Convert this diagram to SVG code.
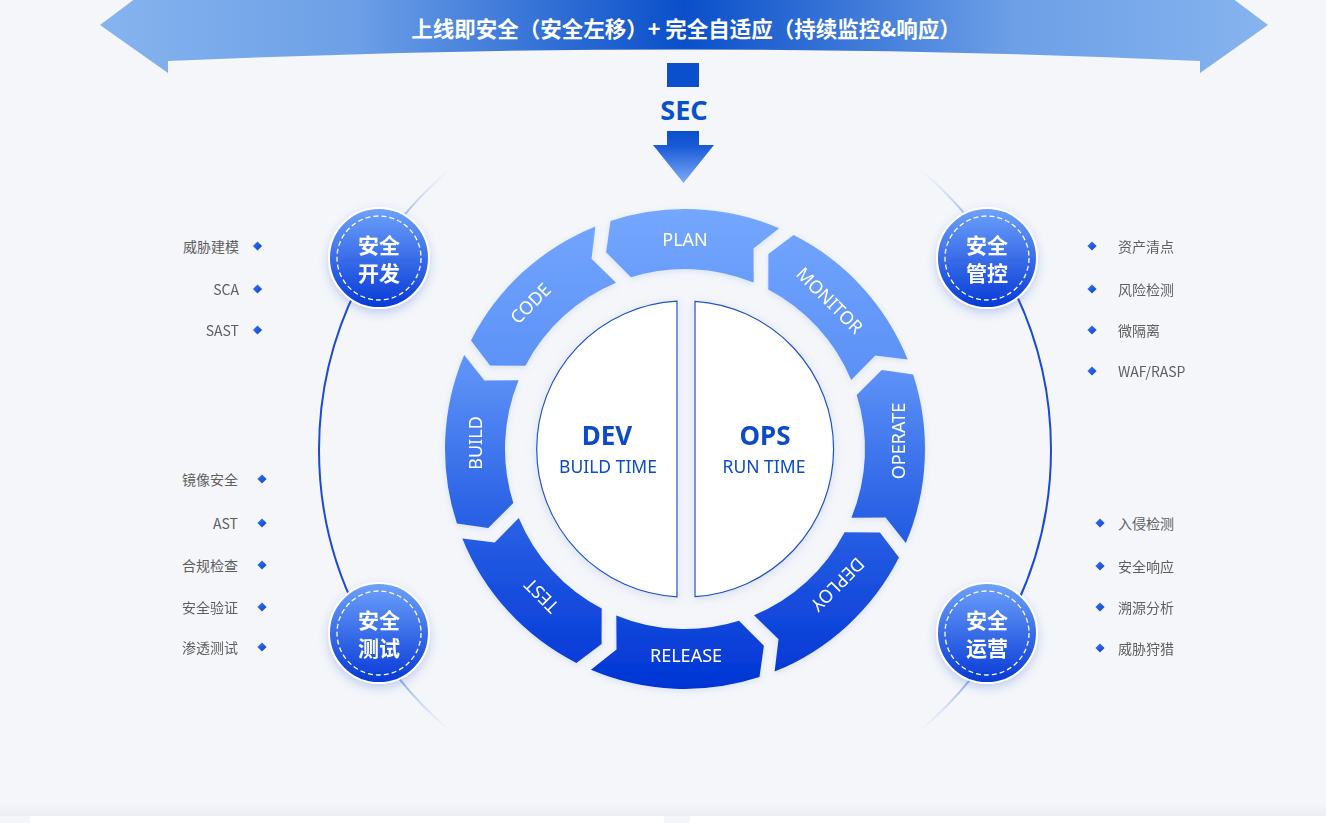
<svg xmlns="http://www.w3.org/2000/svg" width="1326" height="823" viewBox="0 0 1326 823">
<defs>
<linearGradient id="gBanner" x1="100" y1="0" x2="1268" y2="0" gradientUnits="userSpaceOnUse">
<stop offset="0" stop-color="#86b4ef"/>
<stop offset="0.22" stop-color="#6c9fe6"/>
<stop offset="0.5" stop-color="#0a4fca"/>
<stop offset="0.78" stop-color="#6c9fe6"/>
<stop offset="1" stop-color="#86b4ef"/>
</linearGradient>
<linearGradient id="gArrow" x1="0" y1="131" x2="0" y2="183" gradientUnits="userSpaceOnUse">
<stop offset="0" stop-color="#0a4fcc"/>
<stop offset="0.3" stop-color="#1a5bd6"/>
<stop offset="1" stop-color="#7eabfa"/>
</linearGradient>
<linearGradient id="gRing" x1="0" y1="209" x2="0" y2="689" gradientUnits="userSpaceOnUse">
<stop offset="0" stop-color="#74a7ff"/>
<stop offset="0.35" stop-color="#5b90f6"/>
<stop offset="0.6" stop-color="#2f67e6"/>
<stop offset="1" stop-color="#0035d5"/>
</linearGradient>
<linearGradient id="gBadge" x1="0" y1="0" x2="0" y2="1">
<stop offset="0" stop-color="#6ea2fb"/>
<stop offset="1" stop-color="#0639d6"/>
</linearGradient>
<linearGradient id="gArc" x1="0" y1="168" x2="0" y2="732" gradientUnits="userSpaceOnUse">
<stop offset="0" stop-color="#c8d8f6" stop-opacity="0"/>
<stop offset="0.1" stop-color="#86a8ec"/>
<stop offset="0.22" stop-color="#1a4ad6"/>
<stop offset="0.78" stop-color="#1a4ad6"/>
<stop offset="0.9" stop-color="#7fa2ea"/>
<stop offset="1" stop-color="#c8d8f6" stop-opacity="0"/>
</linearGradient>
<linearGradient id="gDia" x1="0" y1="0" x2="1" y2="1">
<stop offset="0" stop-color="#3a78f0"/>
<stop offset="1" stop-color="#0a40d2"/>
</linearGradient>
<linearGradient id="gBottom" x1="0" y1="0" x2="0" y2="1">
<stop offset="0" stop-color="#f4f6fa"/>
<stop offset="1" stop-color="#eaedf3"/>
</linearGradient>
<filter id="fBadge" x="-30%" y="-30%" width="160%" height="170%">
<feDropShadow dx="0" dy="4" stdDeviation="5" flood-color="#3a64d0" flood-opacity="0.28"/>
</filter>
<filter id="fSoft" x="-20%" y="-20%" width="140%" height="140%">
<feDropShadow dx="0" dy="2" stdDeviation="5" flood-color="#9fb3dc" flood-opacity="0.35"/>
</filter>
<filter id="fSeg" x="-20%" y="-20%" width="140%" height="140%">
<feDropShadow dx="0" dy="2" stdDeviation="3" flood-color="#6f8fd8" flood-opacity="0.2"/>
</filter>
<symbol id="dia" viewBox="-5 -5 10 10" overflow="visible">
<path d="M0 -4.6 L4.6 0 L0 4.6 L-4.6 0 Z" fill="url(#gDia)"/>
</symbol>
</defs>
<style>
.seg{fill:url(#gRing);}
.segt{font-family:"Noto Sans","Liberation Sans",sans-serif;font-size:18px;fill:#ffffff;text-anchor:middle;dominant-baseline:central;}
.half{fill:#ffffff;stroke:#1a52c9;stroke-width:1.2;}
.big{font-family:"Noto Sans","Liberation Sans",sans-serif;font-weight:700;font-size:26px;fill:#0a4bc8;text-anchor:middle;}
.sub{font-family:"Noto Sans","Liberation Sans",sans-serif;font-size:17.5px;fill:#0a4bc8;text-anchor:middle;}
.badge{fill:url(#gBadge);stroke:#ffffff;stroke-width:2;}
.dash{fill:none;stroke:#ffffff;stroke-width:1.3;stroke-dasharray:5 3;}
.bt{font-family:"Noto Sans CJK SC","Noto Sans",sans-serif;font-weight:700;font-size:21px;fill:#ffffff;text-anchor:middle;dominant-baseline:central;}
.item{font-family:"Noto Sans CJK SC","Noto Sans",sans-serif;font-size:14px;fill:#5e5e5e;dominant-baseline:central;}
.l{text-anchor:end;}
.arc{fill:none;stroke:url(#gArc);stroke-width:2;}
</style>
<rect x="0" y="0" width="1326" height="823" fill="#f4f6fa"/>
<rect x="0" y="802" width="1326" height="14" fill="url(#gBottom)"/>
<rect x="30" y="816" width="634" height="7" fill="#ffffff"/>
<rect x="690" y="816" width="636" height="7" fill="#ffffff"/>

<g id="banner">
<path d="M100 25 L136 -2 L1232 -2 L1268 25 L1200 73 L1200 61 Q685 38 168 61 L168 73 Z" fill="url(#gBanner)"/>
<text x="686" y="27" font-family="'Noto Sans CJK SC','Noto Sans',sans-serif" font-weight="700" font-size="21.5" fill="#ffffff" text-anchor="middle" dominant-baseline="central">上线即安全（安全左移）+ 完全自适应（持续监控&amp;响应）</text>
</g>

<g id="sec">
<rect x="667" y="63" width="32" height="24" fill="#0a50cc"/>
<text x="684" y="120" font-family="'Noto Sans','Liberation Sans',sans-serif" font-weight="700" font-size="27" fill="#0a50cc" text-anchor="middle">SEC</text>
<path d="M667 131 L699 131 L699 145 L714 145 L683.5 183 L653 145 L667 145 Z" fill="url(#gArrow)"/>
</g>

<g id="connectors">
<path class="arc" d="M451.7 168 A366 366 0 0 0 451.7 732"/>
<path class="arc" d="M918.3 168 A366 366 0 0 1 918.3 732"/>
</g>

<g id="ring" filter="url(#fSeg)">
<g id="seg-plan"><path class="seg" d="M610.5 220.9 A240 240 0 0 1 779.1 228.2 L753.5 248.4 L753.7 282.6 A180 180 0 0 0 631 277.3 L606.1 252.2 Z"/>
<text class="segt" transform="translate(685,239)">PLAN</text></g>
<g id="seg-monitor"><path class="seg" d="M793.6 235 A240 240 0 0 1 907.7 359.5 L875.3 355.5 L851.2 380 A180 180 0 0 0 768.3 289.4 L768.4 254.1 Z"/>
<text class="segt" transform="translate(830,300) rotate(45)">MONITOR</text></g>
<g id="seg-operate"><path class="seg" d="M913.1 374.5 A240 240 0 0 1 905.8 543.1 L885.6 517.5 L851.4 517.7 A180 180 0 0 0 856.7 395 L881.8 370.1 Z"/>
<text class="segt" transform="translate(898,441) rotate(-90)">OPERATE</text></g>
<g id="seg-deploy"><path class="seg" d="M899 557.6 A240 240 0 0 1 774.6 671.6 L778.5 639.3 L754 615.2 A180 180 0 0 0 844.6 532.3 L879.9 532.4 Z"/>
<text class="segt" transform="translate(838,585) rotate(135)">DEPLOY</text></g>
<g id="seg-release"><path class="seg" d="M759.5 677.1 A240 240 0 0 1 590.9 669.8 L616.5 649.6 L616.3 615.4 A180 180 0 0 0 739 620.7 L763.9 645.8 Z"/>
<text class="segt" transform="translate(686,655)">RELEASE</text></g>
<g id="seg-test"><path class="seg" d="M576.4 663 A240 240 0 0 1 462.3 538.5 L494.7 542.5 L518.8 518 A180 180 0 0 0 601.7 608.6 L601.6 643.9 Z"/>
<text class="segt" transform="translate(541,596) rotate(225)">TEST</text></g>
<g id="seg-build"><path class="seg" d="M456.9 523.5 A240 240 0 0 1 464.2 354.9 L484.4 380.5 L518.6 380.3 A180 180 0 0 0 513.3 503 L488.2 527.9 Z"/>
<text class="segt" transform="translate(475,443) rotate(-90)">BUILD</text></g>
<g id="seg-code"><path class="seg" d="M471 340.4 A240 240 0 0 1 595.4 226.4 L591.5 258.7 L616 282.8 A180 180 0 0 0 525.4 365.7 L490.1 365.6 Z"/>
<text class="segt" transform="translate(530,303) rotate(-45)">CODE</text></g>
</g>

<g id="dev" filter="url(#fSoft)">
<path class="half" d="M677 301.2 L677 596.8 A148 148 0 0 1 677 301.2 Z"/>
<text class="big" x="607" y="445">DEV</text>
<text class="sub" x="608" y="473">BUILD TIME</text>
</g>
<g id="ops" filter="url(#fSoft)">
<path class="half" d="M695 301.3 A148 148 0 0 1 695 596.7 Z"/>
<text class="big" x="765" y="445">OPS</text>
<text class="sub" x="764" y="473">RUN TIME</text>
</g>

<g id="badge-dev" filter="url(#fBadge)">
<circle class="badge" cx="379" cy="258" r="50"/>
<circle class="dash" cx="379" cy="258" r="42"/>
<text class="bt" x="379" y="244">安全</text>
<text class="bt" x="379" y="272">开发</text>
</g>
<g id="badge-test" filter="url(#fBadge)">
<circle class="badge" cx="379" cy="633" r="50"/>
<circle class="dash" cx="379" cy="633" r="42"/>
<text class="bt" x="379" y="619">安全</text>
<text class="bt" x="379" y="647">测试</text>
</g>
<g id="badge-ctrl" filter="url(#fBadge)">
<circle class="badge" cx="987" cy="258" r="50"/>
<circle class="dash" cx="987" cy="258" r="42"/>
<text class="bt" x="987" y="244">安全</text>
<text class="bt" x="987" y="272">管控</text>
</g>
<g id="badge-ops" filter="url(#fBadge)">
<circle class="badge" cx="987" cy="633" r="50"/>
<circle class="dash" cx="987" cy="633" r="42"/>
<text class="bt" x="987" y="619">安全</text>
<text class="bt" x="987" y="647">运营</text>
</g>

<g id="items-dev">
<text class="item l" x="239" y="246">威胁建模</text><use href="#dia" x="252.5" y="241" width="10" height="10"/>
<text class="item l" x="239" y="289">SCA</text><use href="#dia" x="252.5" y="284" width="10" height="10"/>
<text class="item l" x="239" y="330">SAST</text><use href="#dia" x="252.5" y="325" width="10" height="10"/>
</g>
<g id="items-test">
<text class="item l" x="238" y="479">镜像安全</text><use href="#dia" x="257" y="474" width="10" height="10"/>
<text class="item l" x="238" y="523">AST</text><use href="#dia" x="257" y="518" width="10" height="10"/>
<text class="item l" x="238" y="565">合规检查</text><use href="#dia" x="257" y="560" width="10" height="10"/>
<text class="item l" x="238" y="607">安全验证</text><use href="#dia" x="257" y="602" width="10" height="10"/>
<text class="item l" x="238" y="647">渗透测试</text><use href="#dia" x="257" y="642" width="10" height="10"/>
</g>
<g id="items-ctrl">
<use href="#dia" x="1087" y="241" width="10" height="10"/><text class="item" x="1118" y="246">资产清点</text>
<use href="#dia" x="1087" y="284" width="10" height="10"/><text class="item" x="1118" y="289">风险检测</text>
<use href="#dia" x="1087" y="325" width="10" height="10"/><text class="item" x="1118" y="330">微隔离</text>
<use href="#dia" x="1087" y="366" width="10" height="10"/><text class="item" x="1118" y="371">WAF/RASP</text>
</g>
<g id="items-ops">
<use href="#dia" x="1095" y="518" width="10" height="10"/><text class="item" x="1118" y="523">入侵检测</text>
<use href="#dia" x="1095" y="561" width="10" height="10"/><text class="item" x="1118" y="566">安全响应</text>
<use href="#dia" x="1095" y="602" width="10" height="10"/><text class="item" x="1118" y="607">溯源分析</text>
<use href="#dia" x="1095" y="643" width="10" height="10"/><text class="item" x="1118" y="648">威胁狩猎</text>
</g>
</svg>
